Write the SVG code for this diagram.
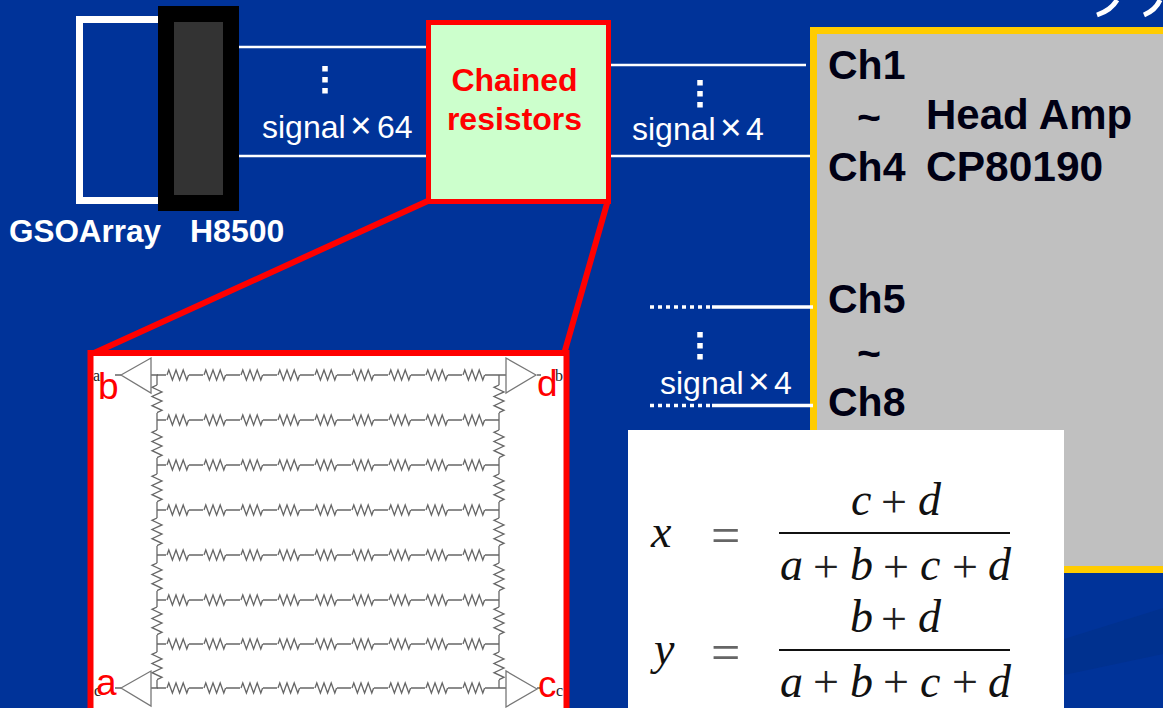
<svg xmlns="http://www.w3.org/2000/svg" xmlns:xlink="http://www.w3.org/1999/xlink" width="1163" height="708" viewBox="0 0 1163 708">
<style>
text{font-family:"Liberation Sans",Arial,sans-serif}
.w{fill:#fff;font-size:32px}
.x{fill:#fff;font-size:37px}
.wb{fill:#fff;font-size:32px;font-weight:bold}
.k{fill:#000014;font-size:41px;font-weight:bold}
.h{fill:#000014;font-size:42px;font-weight:bold}
.h2{fill:#000014;font-size:42.500px;font-weight:bold}
.r{fill:#f00;font-size:32px;font-weight:bold;text-anchor:middle}
.rl{fill:#f00;font-size:37px}
.sm{fill:#222;font-size:16px;font-family:"Liberation Serif",serif}
.m{fill:#111;font-size:46px;font-family:"Liberation Serif",serif;font-style:italic}
.p{fill:#222;font-size:46px;font-family:"Liberation Serif",serif}
.e{fill:#666;font-size:52px;font-family:"Liberation Serif",serif}
.sig{stroke:#fff;stroke-width:2.5;fill:none}
.thick{stroke:#fff;stroke-width:3.5;fill:none}
.dot{stroke:#fff;stroke-width:3.5;stroke-dasharray:4 4;fill:none}
.wire{stroke:#666;stroke-width:1.300;fill:none}
.tri{stroke:#777;stroke-width:1.300;fill:#fff}
.fl{stroke:#111;stroke-width:2;fill:none}
.vd{fill:#fff}
</style>
<defs>
<path id="rh" class="wire" d="M0 0l1.800-5 3.600 10 3.600-10 3.600 10 3.600-10 3.600 10 1.800-5"/>
<path id="rv" class="wire" d="M0 0l-5 2.300 10 4.600-10 4.600 10 4.600-10 4.600 10 4.600-5 2.300"/>
<g id="row">
<path class="wire" d="M0 0H342"/>
<g id="res9">
<rect x="9" y="-6" width="23" height="12" fill="#fff"/><use xlink:href="#rh" x="10"/>
<rect x="46" y="-6" width="23" height="12" fill="#fff"/><use xlink:href="#rh" x="47"/>
<rect x="83" y="-6" width="23" height="12" fill="#fff"/><use xlink:href="#rh" x="84"/>
<rect x="120" y="-6" width="23" height="12" fill="#fff"/><use xlink:href="#rh" x="121"/>
<rect x="157" y="-6" width="23" height="12" fill="#fff"/><use xlink:href="#rh" x="158"/>
<rect x="194" y="-6" width="23" height="12" fill="#fff"/><use xlink:href="#rh" x="195"/>
<rect x="231" y="-6" width="23" height="12" fill="#fff"/><use xlink:href="#rh" x="232"/>
<rect x="268" y="-6" width="23" height="12" fill="#fff"/><use xlink:href="#rh" x="269"/>
<rect x="305" y="-6" width="23" height="12" fill="#fff"/><use xlink:href="#rh" x="306"/>
</g>
</g>
<g id="col">
<path class="wire" d="M0 375V688"/>
<rect x="-6" y="385" width="12" height="28" fill="#fff"/><use xlink:href="#rv" y="385"/>
<rect x="-6" y="430" width="12" height="28" fill="#fff"/><use xlink:href="#rv" y="430"/>
<rect x="-6" y="474" width="12" height="28" fill="#fff"/><use xlink:href="#rv" y="474"/>
<rect x="-6" y="518" width="12" height="28" fill="#fff"/><use xlink:href="#rv" y="518"/>
<rect x="-6" y="563" width="12" height="28" fill="#fff"/><use xlink:href="#rv" y="563"/>
<rect x="-6" y="607" width="12" height="28" fill="#fff"/><use xlink:href="#rv" y="607"/>
<rect x="-6" y="652" width="12" height="28" fill="#fff"/><use xlink:href="#rv" y="652"/>
</g>
<g id="vdots"><rect x="-2.750" y="0" width="5.500" height="5.500"/><rect x="-2.750" y="11" width="5.500" height="5.500"/><rect x="-2.750" y="22" width="5.500" height="5.500"/></g>
</defs>

<rect width="1163" height="708" fill="#003399"/>
<path d="M1163 608L1064 639V675L1163 654Z" fill="#00318f"/>
<path d="M1097 15C1106 12 1113 7 1117 0M1144 15C1151 12 1157 7 1160 0" stroke="#fff" stroke-width="5" fill="none"/>

<g id="amp">
<rect x="813.500" y="30.500" width="360" height="539" fill="#c0c0c0" stroke="#ffcc00" stroke-width="7"/>
<text class="k" x="828" y="79">Ch1</text>
<text class="k" x="857" y="131">~</text>
<text class="h" x="926" y="129">Head Amp</text>
<text class="k" x="828" y="181">Ch4</text>
<text class="h2" x="926" y="181">CP80190</text>
<text class="k" x="828" y="313">Ch5</text>
<text class="k" x="857" y="367">~</text>
<text class="k" x="828" y="416">Ch8</text>
</g>

<g id="connectors">
<path class="sig" d="M239 47H426M239 156H426M611 65H806M611 156H810"/>
<path class="thick" d="M712 307H813M712 405.500H813"/>
<path class="dot" d="M650 307H712M650 405.500H712"/>
<path d="M430 200L92 354M608 200L564 354" stroke="#f00" stroke-width="6" fill="none"/>
</g>

<g id="gso">
<rect x="79.500" y="19.500" width="90" height="181" fill="none" stroke="#fff" stroke-width="7"/>
<text class="wb" x="9" y="242" textLength="152" lengthAdjust="spacingAndGlyphs">GSOArray</text>
</g>
<g id="h8500">
<rect x="158" y="6" width="81" height="205" fill="#000"/>
<rect x="174" y="22" width="49" height="173" fill="#333"/>
<text class="wb" x="190" y="242">H8500</text>
</g>

<g id="signals">
<use xlink:href="#vdots" x="325" y="66" class="vd"/>
<text class="w" x="262" y="138">signal</text><text class="x" x="350" y="138">×</text><text class="w" x="377" y="138">64</text>
<use xlink:href="#vdots" x="700" y="80" class="vd"/>
<text class="w" x="632" y="140">signal</text><text class="x" x="720" y="140">×</text><text class="w" x="746" y="140">4</text>
<use xlink:href="#vdots" x="700" y="332" class="vd"/>
<text class="w" x="660" y="394">signal</text><text class="x" x="748" y="394">×</text><text class="w" x="774" y="394">4</text>
</g>

<g id="chained">
<rect x="428.500" y="22.500" width="180" height="179" fill="#ccffcc" stroke="#f00" stroke-width="5"/>
<text class="r" x="514.500" y="91">Chained</text>
<text class="r" x="514.500" y="130">resistors</text>
</g>

<g id="detail">
<rect x="90.500" y="353" width="476" height="370" fill="#fff" stroke="#f00" stroke-width="6"/>
<use xlink:href="#col" x="157"/>
<use xlink:href="#col" x="499"/>
<use xlink:href="#row" x="157" y="375"/>
<use xlink:href="#row" x="157" y="420"/>
<use xlink:href="#row" x="157" y="465"/>
<use xlink:href="#row" x="157" y="510"/>
<use xlink:href="#row" x="157" y="555"/>
<use xlink:href="#row" x="157" y="600"/>
<use xlink:href="#row" x="157" y="644"/>
<use xlink:href="#row" x="157" y="688"/>
<path class="wire" d="M150 375H158M499 375H506M150 688H158M499 688H506M115 375H121M537 375H541M115 688H121M537 688H541"/>
<path class="tri" d="M121 375L151 358V393Z"/>
<path class="tri" d="M536 375L506 358V393Z"/>
<path class="tri" d="M121 688L151 671V706Z"/>
<path class="tri" d="M537 689L506 671V707Z"/>
<text class="sm" x="93" y="381">a</text>
<text class="rl" x="98" y="399">b</text>
<text class="sm" x="555" y="381">b</text>
<text class="rl" x="537" y="396">d</text>
<text class="sm" x="94" y="696">c</text>
<text class="rl" x="96" y="695">a</text>
<text class="sm" x="556" y="696">c</text>
<text class="rl" x="538" y="697">c</text>
</g>

<g id="formula">
<rect x="628" y="430" width="436" height="278" fill="#fff"/>
<text class="m" x="651" y="547">x</text>
<text class="e" x="711" y="553">=</text>
<text class="m" x="851" y="515">c</text><text class="p" x="881" y="517">+</text><text class="m" x="918" y="515">d</text>
<path class="fl" d="M779 533H1010"/>
<text class="m" x="780" y="580">a</text><text class="p" x="813" y="582">+</text><text class="m" x="850" y="580">b</text><text class="p" x="883" y="582">+</text><text class="m" x="920" y="580">c</text><text class="p" x="952" y="582">+</text><text class="m" x="988" y="580">d</text>
<text class="m" x="654" y="664">y</text>
<text class="e" x="711" y="670">=</text>
<text class="m" x="850" y="632">b</text><text class="p" x="881" y="634">+</text><text class="m" x="918" y="632">d</text>
<path class="fl" d="M779 650H1010"/>
<text class="m" x="780" y="697">a</text><text class="p" x="813" y="697">+</text><text class="m" x="850" y="697">b</text><text class="p" x="883" y="697">+</text><text class="m" x="920" y="697">c</text><text class="p" x="952" y="697">+</text><text class="m" x="988" y="697">d</text>
</g>
</svg>
